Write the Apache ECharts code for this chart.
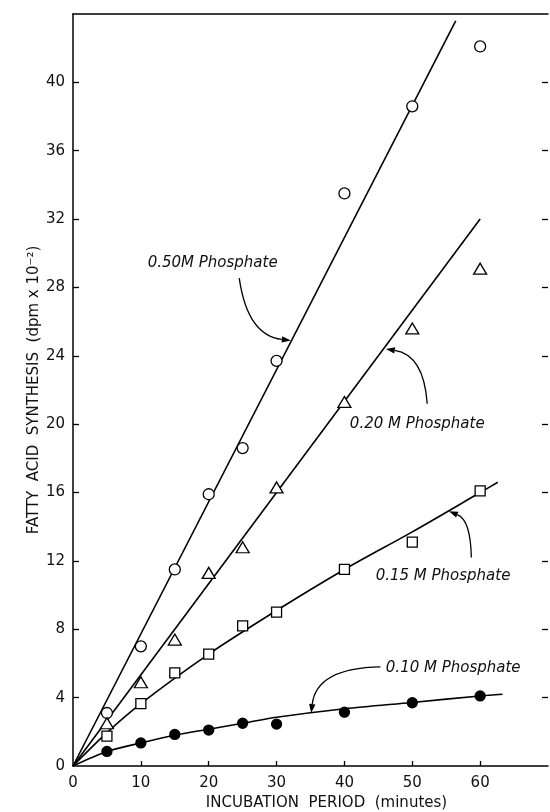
<!DOCTYPE html>
<html>
<head>
<meta charset="utf-8">
<script src="https://cdn.jsdelivr.net/npm/echarts@6/dist/echarts.min.js"></script>
<style>
  html, body { margin: 0; padding: 0; background: #fff; }
  #chart { width: 550px; height: 812px; }
</style>
</head>
<body>
<div id="chart"></div>
<script>
// measured points (minutes -> dpm x 10^-2)
const minutes = [5, 10, 15, 20, 25, 30, 40, 50, 60];
const p050 = [3.1, 7.0, 11.5, 15.9, 18.6, 23.7, 33.5, 38.6, 42.1];
const p020 = [2.5, 4.9, 7.4, 11.3, 12.8, 16.3, 21.3, 25.6, 29.1];
const p015 = [1.75, 3.65, 5.45, 6.55, 8.2, 9.0, 11.5, 13.1, 16.1];
const p010 = [0.85, 1.35, 1.85, 2.1, 2.5, 2.45, 3.15, 3.7, 4.1];

// hand drawn fit lines
const fit050x = [0, 56.4];
const fit050y = [0, 43.6];
const fit020x = [0, 60];
const fit020y = [0, 32.0];
const fit015x = [0, 5, 10, 20, 30, 40, 50, 60, 62.6];
const fit015y = [0, 1.95, 3.65, 6.55, 9.1, 11.5, 13.7, 16.0, 16.6];
const fit010x = [0, 5, 10, 15, 20, 25, 30, 40, 50, 60, 63.3];
const fit010y = [0, 0.85, 1.35, 1.8, 2.15, 2.5, 2.85, 3.35, 3.72, 4.1, 4.2];

const xTicks = [0, 10, 20, 30, 40, 50, 60];
const yTicks = [0, 4, 8, 12, 16, 20, 24, 28, 32, 36, 40];

// labels with curved arrows, in data units
const notes = [
  { text: '0.50M Phosphate', at: [11.0, 29.4], from: [24.5, 28.55], ctrl: [25.7, 25.2], tip: [32.1, 24.9] },
  { text: '0.20 M Phosphate', at: [40.8, 20.0], from: [52.2, 21.2], ctrl: [51.7, 24.05], tip: [46.1, 24.4] },
  { text: '0.15 M Phosphate', at: [44.6, 11.1], from: [58.7, 12.2], ctrl: [58.6, 14.4], tip: [55.4, 14.9] },
  { text: '0.10 M Phosphate', at: [46.1, 5.7], from: [45.3, 5.8], ctrl: [35.9, 5.73], tip: [35.1, 3.1] }
];

const FONT = 'DejaVu Sans';

function pairs(xs, ys) {
  return xs.map((x, i) => [x, ys[i]]);
}

function fitLine(xs, ys, smooth) {
  return {
    type: 'line',
    data: pairs(xs, ys),
    showSymbol: false,
    smooth: smooth,
    lineStyle: { color: '#000', width: 1.6 },
    z: 2,
    silent: true
  };
}

function points(ys, symbol, size, filled) {
  return {
    type: 'scatter',
    data: pairs(minutes, ys),
    symbol: symbol,
    symbolSize: size,
    itemStyle: {
      color: filled ? '#000' : '#fff',
      borderColor: '#000',
      borderWidth: 1.3,
      opacity: 1
    },
    z: 5
  };
}

const tickStyle = { color: '#000', width: 1.3 };

const option = {
  animation: false,
  backgroundColor: '#fff',
  grid: { left: 73, right: 2, top: 14, bottom: 46, outerBoundsMode: 'none', containLabel: false },
  xAxis: [
    {
      type: 'value',
      min: 0,
      max: 70,
      interval: 10,
      name: 'INCUBATION  PERIOD  (minutes)',
      nameLocation: 'middle',
      nameGap: 30,
      nameTextStyle: { fontFamily: FONT, fontSize: 15, color: '#111', padding: [0, 0, 0, 32] },
      axisLine: { onZero: false, lineStyle: { color: '#000', width: 1.5 } },
      axisTick: { inside: true, length: 5, lineStyle: tickStyle, customValues: xTicks.filter(v => v > 0) },
      axisLabel: {
        margin: 10,
        fontFamily: FONT,
        fontSize: 15,
        color: '#111',
        customValues: xTicks
      },
      splitLine: { show: false }
    },
    {
      type: 'value',
      position: 'top',
      min: 0,
      max: 70,
      interval: 10,
      axisLine: { show: true, onZero: false, lineStyle: { color: '#000', width: 1.5 } },
      axisTick: { show: false },
      axisLabel: { show: false },
      splitLine: { show: false }
    }
  ],
  yAxis: [
    {
      type: 'value',
      min: 0,
      max: 44,
      interval: 4,
      name: 'FATTY  ACID  SYNTHESIS  (dpm x 10\u207B\u00B2)',
      nameLocation: 'middle',
      nameGap: 31,
      nameMoveOverlap: false,
      nameTextStyle: { fontFamily: FONT, fontSize: 15, color: '#111' },
      axisLine: { onZero: false, lineStyle: { color: '#000', width: 1.5 } },
      axisTick: { inside: true, length: 6, lineStyle: tickStyle, customValues: yTicks.filter(v => v > 0) },
      axisLabel: {
        margin: 8,
        fontFamily: FONT,
        fontSize: 15,
        color: '#111',
        customValues: yTicks
      },
      splitLine: { show: false }
    },
    {
      type: 'value',
      position: 'right',
      min: 0,
      max: 44,
      interval: 4,
      axisLine: { show: false, onZero: false },
      axisTick: { show: true, inside: true, length: 6, lineStyle: tickStyle, customValues: yTicks.filter(v => v > 0) },
      axisLabel: { show: false },
      splitLine: { show: false }
    }
  ],
  series: [
    fitLine(fit050x, fit050y, false),
    fitLine(fit020x, fit020y, false),
    fitLine(fit015x, fit015y, 0.3),
    fitLine(fit010x, fit010y, 0.3),
    points(p050, 'circle', 11, false),
    points(p020, 'triangle', [13, 11], false),
    points(p015, 'rect', 10, false),
    points(p010, 'circle', 10, true)
  ]
};

const chart = echarts.init(document.getElementById('chart'));
chart.setOption(option);

// annotations: text + curved arrow, placed through the grid's scales
function toPx(p) {
  return chart.convertToPixel({ gridIndex: 0 }, p);
}

const graphics = [];
notes.forEach(n => {
  const at = toPx(n.at);
  const a = toPx(n.from);
  const c = toPx(n.ctrl);
  const t = toPx(n.tip);
  graphics.push({
    type: 'text',
    x: at[0],
    y: at[1],
    style: {
      text: n.text,
      fontFamily: FONT,
      fontStyle: 'italic',
      fontSize: 15,
      fill: '#111',
      verticalAlign: 'middle',
      align: 'left'
    },
    z: 10
  });
  // arrow head direction from the control point to the tip
  let dx = t[0] - c[0];
  let dy = t[1] - c[1];
  const len = Math.sqrt(dx * dx + dy * dy);
  dx /= len;
  dy /= len;
  const L = 9, W = 3.2;
  const bx = t[0] - dx * L, by = t[1] - dy * L;
  graphics.push({
    type: 'bezierCurve',
    shape: { x1: a[0], y1: a[1], x2: bx, y2: by, cpx1: c[0], cpy1: c[1] },
    style: { stroke: '#000', lineWidth: 1.3, fill: null },
    z: 10
  });
  graphics.push({
    type: 'polygon',
    shape: { points: [[t[0], t[1]], [bx - dy * W, by + dx * W], [bx + dy * W, by - dx * W]] },
    style: { fill: '#000' },
    z: 10
  });
});

chart.setOption({ graphic: graphics });
</script>
</body>
</html>
